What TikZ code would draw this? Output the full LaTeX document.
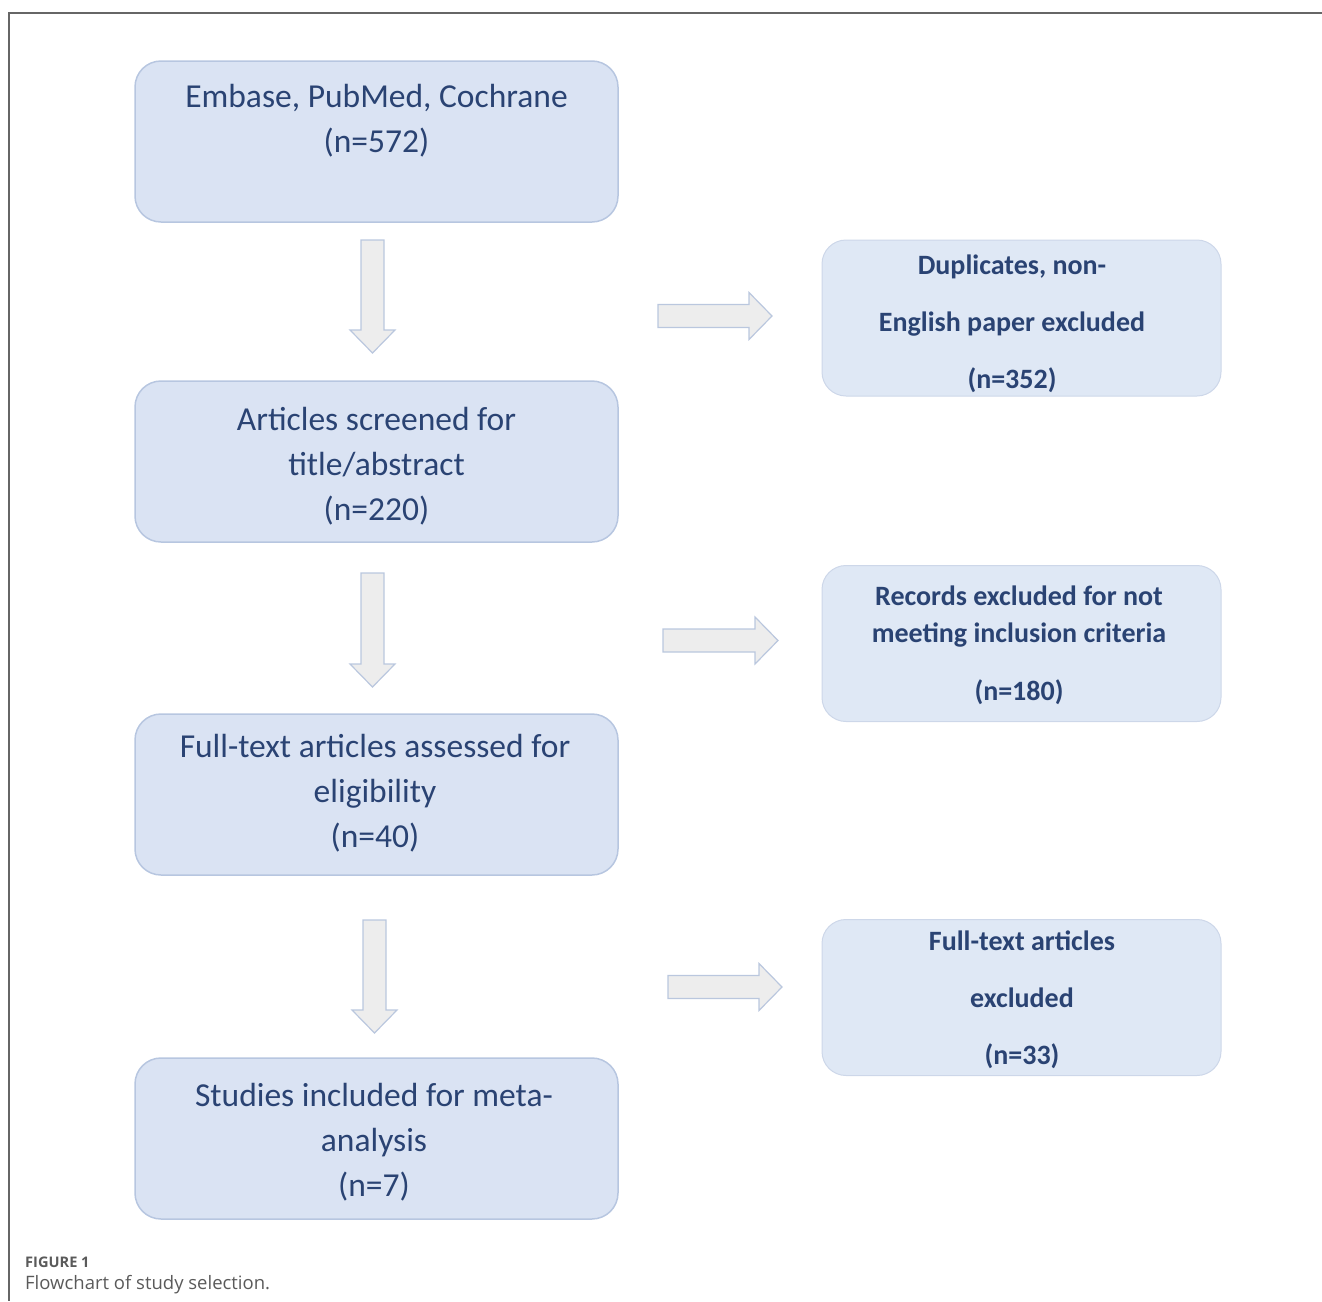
\documentclass[tikz,border=0pt]{standalone}
\usepackage{fontspec}
\setmainfont{Carlito}
\newfontfamily\capfont{Open Sans}
\definecolor{boxfill}{HTML}{DAE3F3}
\definecolor{boxfillr}{HTML}{DFE8F5}
\definecolor{boxline}{HTML}{B7C6E0}
\definecolor{txtblue}{HTML}{2A4373}
\definecolor{arrfill}{HTML}{EDEDED}
\definecolor{arrline}{HTML}{BAC7DE}
\definecolor{framegray}{HTML}{666666}
\definecolor{capgray}{HTML}{5A5A5A}
\tikzset{
  mainbox/.style={draw=boxline, line width=1.5pt, fill=boxfill, rounded corners=26pt,
    minimum width=483pt, minimum height=161pt, inner sep=0pt},
  sidebox/.style={draw=boxline!70, line width=1pt, fill=boxfillr, rounded corners=24pt,
    minimum width=399pt, minimum height=156pt, inner sep=0pt},
  maintext/.style={text=txtblue, align=center, inner sep=0pt, anchor=north,
    font=\fontsize{33.5}{45}\selectfont},
  sidetext/.style={text=txtblue, align=center, inner sep=0pt, anchor=north,
    font=\fontsize{28}{57}\selectfont\bfseries},
  blockarrow/.style={draw=arrline, line width=1.2pt, fill=arrfill, line join=miter}
}
\begin{document}
\begin{tikzpicture}[x=1pt,y=-1pt]
\useasboundingbox (0,0) rectangle (1322,1301);
% frame
\coordinate (fTR) at (1322,13);
\coordinate (fTL) at (9,13);
\coordinate (fBL) at (9,1301);
\draw[framegray, line width=1.5pt] (fTR) -- (fTL) -- (fBL);

% main boxes
\node[mainbox] (b1) at (376.5,141.5) {};
\node[mainbox] (b2) at (376.5,461.5) {};
\node[mainbox] (b3) at (376.5,794.5) {};
\node[mainbox] (b4) at (376.5,1138.5) {};
\node[maintext] (t1) at (376.5,84.5) {Embase, PubMed, Cochrane\\(n=572)};
\node[maintext] (t2) at (376.5,407.5) {Articles screened for\\title/abstract\\(n=220)};
\node[maintext] (t3) at (375,734.5) {Full-text articles assessed for\\eligibility\\(n=40)};
\node[maintext] (t4) at (374,1083.5) {Studies included for meta-\\analysis\\(n=7)};

% side boxes
\node[sidebox] (s1) at (1021.5,318) {};
\node[sidebox] (s2) at (1021.5,643.5) {};
\node[sidebox] (s3) at (1021.5,997.5) {};
\begin{scope}
\clip[rounded corners=24pt] (822,240) rectangle (1221,396);
\node[sidetext] (u1) at (1012,254.5) {Duplicates, non-\\English paper excluded\\(n=352)};
\end{scope}
\node[sidetext, font=\fontsize{28}{37}\selectfont\bfseries] (u2) at (1019,585.5) {Records excluded for not\\meeting inclusion criteria};
\node[sidetext] (u2b) at (1019,679.5) {(n=180)};
\begin{scope}
\clip[rounded corners=24pt] (822,920) rectangle (1221,1075);
\node[sidetext] (u3) at (1022,930.5) {Full-text articles\\excluded\\(n=33)};
\end{scope}

% down block arrows
\draw[blockarrow] (361,240) -- (384,240) -- (384,330) -- (395,330) -- (372.5,353) -- (350,330) -- (361,330) -- cycle;
\draw[blockarrow] (361,573) -- (384,573) -- (384,664) -- (395,664) -- (372.5,687) -- (350,664) -- (361,664) -- cycle;
\draw[blockarrow] (363,920) -- (386,920) -- (386,1010) -- (397,1010) -- (374.5,1033) -- (352,1010) -- (363,1010) -- cycle;

% right block arrows
\draw[blockarrow] (658,304.5) -- (749,304.5) -- (749,292.5) -- (772,316) -- (749,339.5) -- (749,327.5) -- (658,327.5) -- cycle;
\draw[blockarrow] (663,629) -- (755,629) -- (755,617) -- (778,640.5) -- (755,664) -- (755,652) -- (663,652) -- cycle;
\draw[blockarrow] (668,975.5) -- (759,975.5) -- (759,963.5) -- (782,987) -- (759,1010.5) -- (759,998.5) -- (668,998.5) -- cycle;

% caption
\node[anchor=west, inner sep=0pt, text=capgray, font=\capfont\fontsize{14.6}{16}\selectfont\bfseries] (cap1) at (25,1262) {FIGURE 1};
\node[anchor=west, inner sep=0pt, text=capgray, font=\capfont\fontsize{18.5}{20}\selectfont] (cap2) at (25,1285) {Flowchart of study selection.};
\end{tikzpicture}
\end{document}
